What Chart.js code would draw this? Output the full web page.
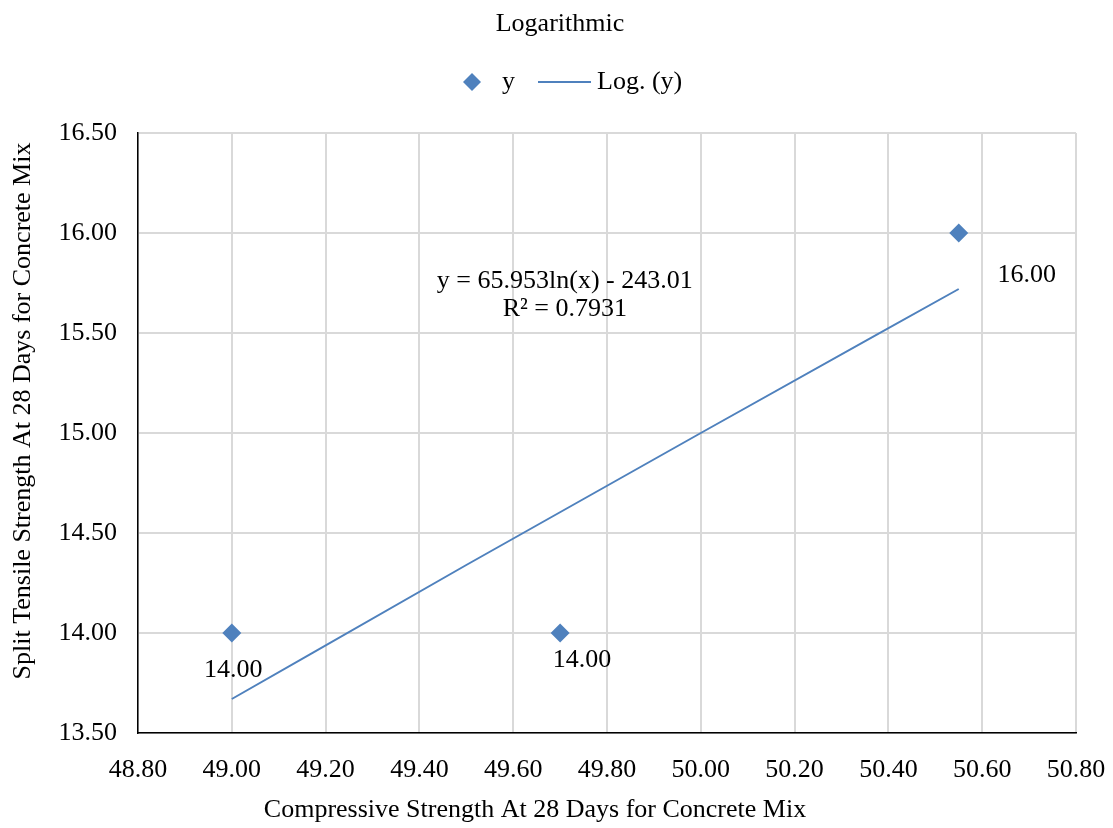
<!DOCTYPE html>
<html>
<head>
<meta charset="utf-8">
<script src="https://cdn.jsdelivr.net/npm/chart.js@4.4.1/dist/chart.umd.min.js"></script>
<style>
  html, body { margin: 0; padding: 0; background: #fff; }
  #wrap { width: 1113px; height: 828px; position: relative; }
</style>
</head>
<body>
<div id="wrap"><canvas id="c" width="1113" height="828"></canvas></div>
<script>
// ---- data ----
const xValues = [49.00, 49.70, 50.55];
const yValues = [14.00, 14.00, 16.00];
const pointLabels = ["14.00", "14.00", "16.00"];
const trendX = [49.00, 49.50, 50.00, 50.55];
const trendY = [13.67, 14.34, 15.00, 15.72];
const xTicks = [48.80, 49.00, 49.20, 49.40, 49.60, 49.80, 50.00, 50.20, 50.40, 50.60, 50.80];
const yTicks = [13.50, 14.00, 14.50, 15.00, 15.50, 16.00, 16.50];
const chartTitle = "Logarithmic";
const seriesName = "y";
const trendName = "Log. (y)";
const equationLines = ["y = 65.953ln(x) - 243.01", "R\u00B2 = 0.7931"];
const xTitle = "Compressive Strength At 28 Days for Concrete Mix";
const yTitle = "Split Tensile Strength At 28 Days for Concrete Mix";

// ---- styles / positions ----
const FONT = "'Liberation Serif', 'Times New Roman', serif";
const FS = 26;
const BLUE = "#4F81BD";
const labelOffsets = [[1.5, 37], [22, 27], [68, 42]];

const scatterData = xValues.map((x, i) => ({ x, y: yValues[i] }));
const trendData = trendX.map((x, i) => ({ x, y: trendY[i] }));

const overlay = {
  id: 'overlay',
  afterDatasetsDraw(chart) {
    const ctx = chart.ctx;
    const xs = chart.scales.x, ys = chart.scales.y;
    const ca = chart.chartArea;
    ctx.save();
    ctx.fillStyle = '#000';
    ctx.font = FS + 'px ' + FONT;
    ctx.textAlign = 'center';
    ctx.textBaseline = 'middle';
    // data labels
    xValues.forEach((xv, i) => {
      const px = xs.getPixelForValue(xv), py = ys.getPixelForValue(yValues[i]);
      ctx.fillText(pointLabels[i], px + labelOffsets[i][0], py + labelOffsets[i][1]);
    });
    // equation
    const ex = ca.left + (ca.right - ca.left) * 0.455;
    const ey = ca.top + (ca.bottom - ca.top) * 0.247;
    ctx.fillText(equationLines[0], ex, ey);
    ctx.fillText(equationLines[1], ex, ey + 28);
    // title
    ctx.fillText(chartTitle, 560, 24);
    // legend
    const ly = 82;
    ctx.fillStyle = BLUE;
    ctx.beginPath();
    ctx.moveTo(472 - 9, ly); ctx.lineTo(472, ly - 9); ctx.lineTo(472 + 9, ly); ctx.lineTo(472, ly + 9);
    ctx.closePath(); ctx.fill();
    ctx.strokeStyle = BLUE; ctx.lineWidth = 2;
    ctx.beginPath(); ctx.moveTo(538, ly); ctx.lineTo(591, ly); ctx.stroke();
    ctx.fillStyle = '#000';
    ctx.textAlign = 'left';
    ctx.fillText(seriesName, 502, ly);
    ctx.fillText(trendName, 597, ly);
    // axis titles
    ctx.textAlign = 'center';
    ctx.fillText(xTitle, 535, 810);
    ctx.translate(23, 411);
    ctx.rotate(-Math.PI / 2);
    ctx.fillText(yTitle, 0, 0);
    ctx.restore();
  }
};

new Chart(document.getElementById('c'), {
  type: 'scatter',
  data: {
    datasets: [
      {
        label: trendName,
        data: trendData,
        showLine: true,
        borderColor: BLUE,
        borderWidth: 2,
        pointRadius: 0,
        tension: 0.4,
        cubicInterpolationMode: 'monotone',
        order: 2
      },
      {
        label: seriesName,
        data: scatterData,
        pointStyle: 'rectRot',
        pointRadius: 9.5,
        pointHoverRadius: 9.5,
        backgroundColor: BLUE,
        borderColor: BLUE,
        borderWidth: 0,
        order: 1
      }
    ]
  },
  options: {
    responsive: false,
    animation: false,
    devicePixelRatio: 1,
    layout: { padding: { left: 0, right: 37, top: 133, bottom: 0 } },
    plugins: { legend: { display: false }, title: { display: false }, tooltip: { enabled: false } },
    scales: {
      x: {
        type: 'linear',
        min: xTicks[0], max: xTicks[xTicks.length - 1],
        afterBuildTicks: (s) => { s.ticks = xTicks.map(v => ({ value: v })); },
        afterFit: (s) => { s.height = 95; s.paddingLeft = 0; s.paddingRight = 0; },
        ticks: { font: { family: FONT, size: FS }, color: '#000', padding: 22, maxRotation: 0,
                 callback: (v) => Number(v).toFixed(2) },
        grid: { color: '#d9d9d9', lineWidth: 2, drawTicks: false },
        border: { color: '#000', width: 1.5 }
      },
      y: {
        type: 'linear',
        min: yTicks[0], max: yTicks[yTicks.length - 1],
        afterBuildTicks: (s) => { s.ticks = yTicks.map(v => ({ value: v })); },
        afterFit: (s) => { s.width = 138; s.paddingTop = 0; s.paddingBottom = 0; },
        ticks: { font: { family: FONT, size: FS }, color: '#000', padding: 21,
                 callback: (v) => Number(v).toFixed(2) },
        grid: { color: '#d9d9d9', lineWidth: 2, drawTicks: false },
        border: { color: '#000', width: 1.5 }
      }
    }
  },
  plugins: [overlay]
});
</script>
</body>
</html>
